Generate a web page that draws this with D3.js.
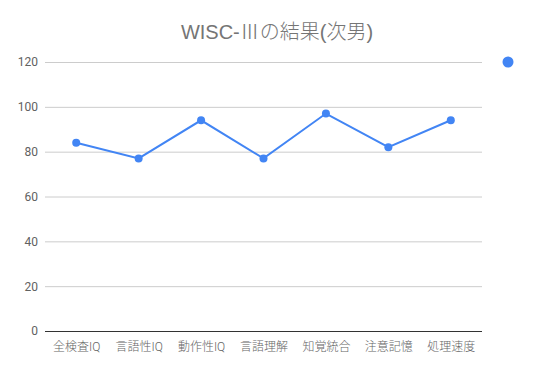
<!DOCTYPE html>
<html>
<head>
<meta charset="utf-8">
<script src="https://cdn.jsdelivr.net/npm/d3@7"></script>
<style>
  body { margin: 0; background: #fff; }
  svg { display: block; font-family: Roboto, "Noto Sans CJK JP", sans-serif; }
</style>
</head>
<body>
<svg id="chart" width="553" height="371"></svg>
<script>
(function () {
  'use strict';

  // chart data
  const categories = ['全検査IQ', '言語性IQ', '動作性IQ', '言語理解', '知覚統合', '注意記憶', '処理速度'];
  const scores = [84, 77, 94, 77, 97, 82, 94];
  const yTicks = [0, 20, 40, 60, 80, 100, 120];
  const title = 'WISC-Ⅲの結果(次男)';

  const svg = d3.select('#chart');
  const left = 45, right = 482, top = 62, bottom = 331;
  const blue = '#4285f4';

  const x = d3.scalePoint().domain(categories).range([left, right]).padding(0.5);
  const y = d3.scaleLinear().domain([0, 120]).range([bottom, top]);

  // title
  svg.append('text')
    .attr('x', 277).attr('y', 39)
    .attr('text-anchor', 'middle')
    .attr('font-size', 20)
    .attr('font-family', '"Liberation Sans", "Noto Sans CJK JP", sans-serif')
    .attr('font-weight', 300)
    .attr('fill', '#757575')
    .text(title);

  // gridlines + y labels
  const yAxis = svg.append('g')
    .attr('transform', 'translate(' + left + ',0)')
    .call(d3.axisLeft(y).tickValues(yTicks).tickSize(-(right - left)).tickPadding(7));
  yAxis.select('.domain').remove();
  yAxis.selectAll('.tick line').attr('stroke', '#cccccc');
  yAxis.selectAll('.tick text').attr('fill', '#616161').attr('font-size', 12)
    .attr('font-family', 'Roboto, sans-serif');

  // x axis
  const xAxis = svg.append('g')
    .attr('transform', 'translate(0,' + bottom + ')')
    .call(d3.axisBottom(x).tickSize(0).tickPadding(11));
  xAxis.select('.domain').attr('stroke', '#333').attr('d', 'M' + left + ',0.5H' + right);
  xAxis.selectAll('.tick text').attr('fill', '#666').attr('font-size', 12)
    .attr('font-weight', 300)
    .attr('font-family', 'Roboto, "Noto Sans CJK JP", sans-serif');

  // line
  const line = d3.line()
    .x((d, i) => x(categories[i]))
    .y(d => y(d));

  svg.append('path')
    .datum(scores)
    .attr('d', line)
    .attr('fill', 'none')
    .attr('stroke', blue)
    .attr('stroke-width', 2);

  svg.append('g').selectAll('circle')
    .data(scores)
    .join('circle')
    .attr('cx', (d, i) => x(categories[i]))
    .attr('cy', d => y(d))
    .attr('r', 4)
    .attr('fill', blue);

  // legend dot
  svg.append('circle')
    .attr('cx', 508).attr('cy', 62).attr('r', 5.5)
    .attr('fill', blue);
}());
</script>
</body>
</html>
